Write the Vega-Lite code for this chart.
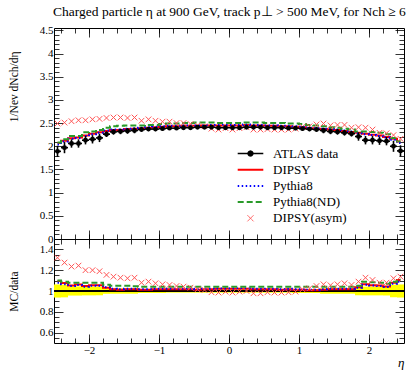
{
"$schema": "https://vega.github.io/schema/vega-lite/v6.json",
"padding": {"left": 7, "top": 5, "right": 13, "bottom": 2},
"title": {"text": "Charged particle η at 900 GeV, track p⊥ > 500 MeV, for Nch ≥ 6", "anchor": "end", "fontSize": 13.5, "fontWeight": "normal", "font": "Liberation Serif", "offset": 5, "color": "#000"},
"datasets": {"h": [
{"e":-2.45,"lo":-2.5,"hi":-2.4,"d":1.89,"dl":1.77,"dh":2.01,"bl":0.937,"bh":1.063,"DIPSY":2.07,"Pythia8":2.04,"Pythia8(ND)":2.08,"A":2.49,"rD":1.095,"rP":1.079,"rN":1.10,"rA":1.32},
{"e":-2.35,"lo":-2.4,"hi":-2.3,"d":1.97,"dl":1.85,"dh":2.09,"bl":0.939,"bh":1.061,"DIPSY":2.12,"Pythia8":2.10,"Pythia8(ND)":2.15,"A":2.51,"rD":1.076,"rP":1.066,"rN":1.09,"rA":1.273},
{"e":-2.25,"lo":-2.3,"hi":-2.2,"d":2.06,"dl":1.97,"dh":2.15,"bl":0.956,"bh":1.044,"DIPSY":2.17,"Pythia8":2.16,"Pythia8(ND)":2.22,"A":2.54,"rD":1.053,"rP":1.048,"rN":1.08,"rA":1.235},
{"e":-2.15,"lo":-2.2,"hi":-2.1,"d":2.06,"dl":1.97,"dh":2.15,"bl":0.956,"bh":1.044,"DIPSY":2.19,"Pythia8":2.18,"Pythia8(ND)":2.22,"A":2.56,"rD":1.063,"rP":1.058,"rN":1.08,"rA":1.244},
{"e":-2.05,"lo":-2.1,"hi":-2.0,"d":2.13,"dl":2.04,"dh":2.22,"bl":0.958,"bh":1.042,"DIPSY":2.23,"Pythia8":2.22,"Pythia8(ND)":2.30,"A":2.56,"rD":1.047,"rP":1.042,"rN":1.08,"rA":1.20},
{"e":-1.95,"lo":-2.0,"hi":-1.9,"d":2.15,"dl":2.06,"dh":2.24,"bl":0.958,"bh":1.042,"DIPSY":2.27,"Pythia8":2.26,"Pythia8(ND)":2.32,"A":2.58,"rD":1.056,"rP":1.051,"rN":1.08,"rA":1.20},
{"e":-1.85,"lo":-1.9,"hi":-1.8,"d":2.18,"dl":2.09,"dh":2.27,"bl":0.959,"bh":1.041,"DIPSY":2.30,"Pythia8":2.29,"Pythia8(ND)":2.35,"A":2.59,"rD":1.055,"rP":1.05,"rN":1.08,"rA":1.19},
{"e":-1.75,"lo":-1.8,"hi":-1.7,"d":2.26,"dl":2.20,"dh":2.32,"bl":0.973,"bh":1.027,"DIPSY":2.33,"Pythia8":2.34,"Pythia8(ND)":2.40,"A":2.61,"rD":1.031,"rP":1.035,"rN":1.06,"rA":1.155},
{"e":-1.65,"lo":-1.7,"hi":-1.6,"d":2.31,"dl":2.25,"dh":2.37,"bl":0.974,"bh":1.026,"DIPSY":2.35,"Pythia8":2.36,"Pythia8(ND)":2.43,"A":2.62,"rD":1.017,"rP":1.022,"rN":1.05,"rA":1.138},
{"e":-1.55,"lo":-1.6,"hi":-1.5,"d":2.32,"dl":2.26,"dh":2.38,"bl":0.974,"bh":1.026,"DIPSY":2.35,"Pythia8":2.36,"Pythia8(ND)":2.44,"A":2.62,"rD":1.013,"rP":1.017,"rN":1.05,"rA":1.128},
{"e":-1.45,"lo":-1.5,"hi":-1.4,"d":2.33,"dl":2.27,"dh":2.39,"bl":0.974,"bh":1.026,"DIPSY":2.37,"Pythia8":2.38,"Pythia8(ND)":2.45,"A":2.61,"rD":1.017,"rP":1.021,"rN":1.05,"rA":1.122},
{"e":-1.35,"lo":-1.4,"hi":-1.3,"d":2.34,"dl":2.28,"dh":2.40,"bl":0.974,"bh":1.026,"DIPSY":2.38,"Pythia8":2.39,"Pythia8(ND)":2.45,"A":2.62,"rD":1.017,"rP":1.021,"rN":1.045,"rA":1.128},
{"e":-1.25,"lo":-1.3,"hi":-1.2,"d":2.36,"dl":2.315,"dh":2.405,"bl":0.981,"bh":1.019,"DIPSY":2.39,"Pythia8":2.40,"Pythia8(ND)":2.45,"A":2.55,"rD":1.013,"rP":1.017,"rN":1.04,"rA":1.08},
{"e":-1.15,"lo":-1.2,"hi":-1.1,"d":2.37,"dl":2.325,"dh":2.415,"bl":0.981,"bh":1.019,"DIPSY":2.40,"Pythia8":2.41,"Pythia8(ND)":2.46,"A":2.58,"rD":1.013,"rP":1.017,"rN":1.04,"rA":1.09},
{"e":-1.05,"lo":-1.1,"hi":-1.0,"d":2.37,"dl":2.325,"dh":2.415,"bl":0.981,"bh":1.019,"DIPSY":2.41,"Pythia8":2.42,"Pythia8(ND)":2.46,"A":2.55,"rD":1.017,"rP":1.021,"rN":1.04,"rA":1.074},
{"e":-0.95,"lo":-1.0,"hi":-0.9,"d":2.38,"dl":2.335,"dh":2.425,"bl":0.981,"bh":1.019,"DIPSY":2.42,"Pythia8":2.43,"Pythia8(ND)":2.48,"A":2.53,"rD":1.017,"rP":1.021,"rN":1.04,"rA":1.064},
{"e":-0.85,"lo":-0.9,"hi":-0.8,"d":2.39,"dl":2.352,"dh":2.428,"bl":0.984,"bh":1.016,"DIPSY":2.43,"Pythia8":2.44,"Pythia8(ND)":2.49,"A":2.53,"rD":1.017,"rP":1.021,"rN":1.04,"rA":1.058},
{"e":-0.75,"lo":-0.8,"hi":-0.7,"d":2.39,"dl":2.352,"dh":2.428,"bl":0.984,"bh":1.016,"DIPSY":2.43,"Pythia8":2.44,"Pythia8(ND)":2.49,"A":2.50,"rD":1.017,"rP":1.021,"rN":1.04,"rA":1.048},
{"e":-0.65,"lo":-0.7,"hi":-0.6,"d":2.40,"dl":2.362,"dh":2.438,"bl":0.984,"bh":1.016,"DIPSY":2.44,"Pythia8":2.45,"Pythia8(ND)":2.50,"A":2.50,"rD":1.017,"rP":1.021,"rN":1.04,"rA":1.042},
{"e":-0.55,"lo":-0.6,"hi":-0.5,"d":2.40,"dl":2.362,"dh":2.438,"bl":0.984,"bh":1.016,"DIPSY":2.44,"Pythia8":2.45,"Pythia8(ND)":2.50,"A":2.48,"rD":1.017,"rP":1.021,"rN":1.04,"rA":1.032},
{"e":-0.45,"lo":-0.5,"hi":-0.4,"d":2.41,"dl":2.372,"dh":2.448,"bl":0.984,"bh":1.016,"DIPSY":2.44,"Pythia8":2.45,"Pythia8(ND)":2.51,"A":2.45,"rD":1.012,"rP":1.017,"rN":1.04,"rA":1.016},
{"e":-0.35,"lo":-0.4,"hi":-0.3,"d":2.41,"dl":2.372,"dh":2.448,"bl":0.984,"bh":1.016,"DIPSY":2.45,"Pythia8":2.46,"Pythia8(ND)":2.51,"A":2.43,"rD":1.017,"rP":1.021,"rN":1.04,"rA":1.01},
{"e":-0.25,"lo":-0.3,"hi":-0.2,"d":2.41,"dl":2.372,"dh":2.448,"bl":0.984,"bh":1.016,"DIPSY":2.45,"Pythia8":2.46,"Pythia8(ND)":2.51,"A":2.38,"rD":1.017,"rP":1.021,"rN":1.04,"rA":0.988},
{"e":-0.15,"lo":-0.2,"hi":-0.1,"d":2.40,"dl":2.362,"dh":2.438,"bl":0.984,"bh":1.016,"DIPSY":2.45,"Pythia8":2.46,"Pythia8(ND)":2.50,"A":2.36,"rD":1.021,"rP":1.025,"rN":1.04,"rA":0.985},
{"e":-0.05,"lo":-0.1,"hi":0.0,"d":2.40,"dl":2.362,"dh":2.438,"bl":0.984,"bh":1.016,"DIPSY":2.45,"Pythia8":2.46,"Pythia8(ND)":2.50,"A":2.39,"rD":1.021,"rP":1.025,"rN":1.04,"rA":0.994},
{"e":0.05,"lo":0.0,"hi":0.1,"d":2.40,"dl":2.362,"dh":2.438,"bl":0.984,"bh":1.016,"DIPSY":2.45,"Pythia8":2.46,"Pythia8(ND)":2.50,"A":2.36,"rD":1.021,"rP":1.025,"rN":1.04,"rA":0.985},
{"e":0.15,"lo":0.1,"hi":0.2,"d":2.40,"dl":2.362,"dh":2.438,"bl":0.984,"bh":1.016,"DIPSY":2.45,"Pythia8":2.46,"Pythia8(ND)":2.50,"A":2.39,"rD":1.021,"rP":1.025,"rN":1.04,"rA":0.994},
{"e":0.25,"lo":0.2,"hi":0.3,"d":2.41,"dl":2.372,"dh":2.448,"bl":0.984,"bh":1.016,"DIPSY":2.46,"Pythia8":2.47,"Pythia8(ND)":2.51,"A":2.41,"rD":1.021,"rP":1.025,"rN":1.04,"rA":1.0},
{"e":0.35,"lo":0.3,"hi":0.4,"d":2.41,"dl":2.372,"dh":2.448,"bl":0.984,"bh":1.016,"DIPSY":2.45,"Pythia8":2.46,"Pythia8(ND)":2.51,"A":2.36,"rD":1.017,"rP":1.021,"rN":1.04,"rA":0.978},
{"e":0.45,"lo":0.4,"hi":0.5,"d":2.41,"dl":2.372,"dh":2.448,"bl":0.984,"bh":1.016,"DIPSY":2.45,"Pythia8":2.46,"Pythia8(ND)":2.51,"A":2.36,"rD":1.017,"rP":1.021,"rN":1.04,"rA":0.978},
{"e":0.55,"lo":0.5,"hi":0.6,"d":2.40,"dl":2.362,"dh":2.438,"bl":0.984,"bh":1.016,"DIPSY":2.44,"Pythia8":2.45,"Pythia8(ND)":2.50,"A":2.37,"rD":1.017,"rP":1.021,"rN":1.04,"rA":0.988},
{"e":0.65,"lo":0.6,"hi":0.7,"d":2.40,"dl":2.362,"dh":2.438,"bl":0.984,"bh":1.016,"DIPSY":2.44,"Pythia8":2.45,"Pythia8(ND)":2.50,"A":2.36,"rD":1.017,"rP":1.021,"rN":1.04,"rA":0.985},
{"e":0.75,"lo":0.7,"hi":0.8,"d":2.40,"dl":2.362,"dh":2.438,"bl":0.984,"bh":1.016,"DIPSY":2.43,"Pythia8":2.44,"Pythia8(ND)":2.50,"A":2.36,"rD":1.0125,"rP":1.017,"rN":1.04,"rA":0.985},
{"e":0.85,"lo":0.8,"hi":0.9,"d":2.39,"dl":2.352,"dh":2.428,"bl":0.984,"bh":1.016,"DIPSY":2.43,"Pythia8":2.44,"Pythia8(ND)":2.49,"A":2.36,"rD":1.017,"rP":1.021,"rN":1.04,"rA":0.988},
{"e":0.95,"lo":0.9,"hi":1.0,"d":2.39,"dl":2.345,"dh":2.435,"bl":0.981,"bh":1.019,"DIPSY":2.42,"Pythia8":2.43,"Pythia8(ND)":2.49,"A":2.38,"rD":1.0125,"rP":1.017,"rN":1.04,"rA":0.994},
{"e":1.05,"lo":1.0,"hi":1.1,"d":2.38,"dl":2.335,"dh":2.425,"bl":0.981,"bh":1.019,"DIPSY":2.41,"Pythia8":2.42,"Pythia8(ND)":2.48,"A":2.42,"rD":1.0125,"rP":1.017,"rN":1.04,"rA":1.016},
{"e":1.15,"lo":1.1,"hi":1.2,"d":2.37,"dl":2.325,"dh":2.415,"bl":0.981,"bh":1.019,"DIPSY":2.39,"Pythia8":2.40,"Pythia8(ND)":2.46,"A":2.43,"rD":1.008,"rP":1.013,"rN":1.04,"rA":1.026},
{"e":1.25,"lo":1.2,"hi":1.3,"d":2.36,"dl":2.315,"dh":2.405,"bl":0.981,"bh":1.019,"DIPSY":2.38,"Pythia8":2.39,"Pythia8(ND)":2.45,"A":2.47,"rD":1.008,"rP":1.013,"rN":1.04,"rA":1.048},
{"e":1.35,"lo":1.3,"hi":1.4,"d":2.34,"dl":2.28,"dh":2.40,"bl":0.974,"bh":1.026,"DIPSY":2.37,"Pythia8":2.38,"Pythia8(ND)":2.43,"A":2.49,"rD":1.013,"rP":1.017,"rN":1.04,"rA":1.064},
{"e":1.45,"lo":1.4,"hi":1.5,"d":2.32,"dl":2.26,"dh":2.38,"bl":0.974,"bh":1.026,"DIPSY":2.36,"Pythia8":2.37,"Pythia8(ND)":2.41,"A":2.45,"rD":1.017,"rP":1.022,"rN":1.04,"rA":1.055},
{"e":1.55,"lo":1.5,"hi":1.6,"d":2.31,"dl":2.25,"dh":2.37,"bl":0.974,"bh":1.026,"DIPSY":2.35,"Pythia8":2.36,"Pythia8(ND)":2.40,"A":2.46,"rD":1.017,"rP":1.022,"rN":1.04,"rA":1.064},
{"e":1.65,"lo":1.6,"hi":1.7,"d":2.29,"dl":2.23,"dh":2.35,"bl":0.974,"bh":1.026,"DIPSY":2.33,"Pythia8":2.34,"Pythia8(ND)":2.38,"A":2.46,"rD":1.017,"rP":1.022,"rN":1.04,"rA":1.074},
{"e":1.75,"lo":1.7,"hi":1.8,"d":2.27,"dl":2.21,"dh":2.33,"bl":0.974,"bh":1.026,"DIPSY":2.31,"Pythia8":2.32,"Pythia8(ND)":2.36,"A":2.40,"rD":1.018,"rP":1.022,"rN":1.04,"rA":1.058},
{"e":1.85,"lo":1.8,"hi":1.9,"d":2.21,"dl":2.12,"dh":2.30,"bl":0.959,"bh":1.041,"DIPSY":2.29,"Pythia8":2.28,"Pythia8(ND)":2.32,"A":2.41,"rD":1.036,"rP":1.032,"rN":1.05,"rA":1.09},
{"e":1.95,"lo":1.9,"hi":2.0,"d":2.13,"dl":2.04,"dh":2.22,"bl":0.958,"bh":1.042,"DIPSY":2.27,"Pythia8":2.26,"Pythia8(ND)":2.32,"A":2.40,"rD":1.066,"rP":1.061,"rN":1.09,"rA":1.128},
{"e":2.05,"lo":2.0,"hi":2.1,"d":2.13,"dl":2.04,"dh":2.22,"bl":0.958,"bh":1.042,"DIPSY":2.25,"Pythia8":2.24,"Pythia8(ND)":2.31,"A":2.36,"rD":1.056,"rP":1.052,"rN":1.085,"rA":1.106},
{"e":2.15,"lo":2.1,"hi":2.2,"d":2.12,"dl":2.03,"dh":2.21,"bl":0.958,"bh":1.042,"DIPSY":2.23,"Pythia8":2.22,"Pythia8(ND)":2.29,"A":2.29,"rD":1.052,"rP":1.047,"rN":1.08,"rA":1.08},
{"e":2.25,"lo":2.2,"hi":2.3,"d":2.11,"dl":2.02,"dh":2.20,"bl":0.957,"bh":1.043,"DIPSY":2.20,"Pythia8":2.19,"Pythia8(ND)":2.26,"A":2.28,"rD":1.043,"rP":1.038,"rN":1.07,"rA":1.08},
{"e":2.35,"lo":2.3,"hi":2.4,"d":2.00,"dl":1.88,"dh":2.12,"bl":0.94,"bh":1.06,"DIPSY":2.16,"Pythia8":2.14,"Pythia8(ND)":2.18,"A":2.24,"rD":1.08,"rP":1.07,"rN":1.09,"rA":1.122},
{"e":2.45,"lo":2.4,"hi":2.5,"d":1.90,"dl":1.78,"dh":2.02,"bl":0.937,"bh":1.063,"DIPSY":2.10,"Pythia8":2.07,"Pythia8(ND)":2.11,"A":2.16,"rD":1.105,"rP":1.089,"rN":1.11,"rA":1.138}
]},
"spacing": 0,
"bounds": "flush",
"vconcat": [
{
 "width": 350, "height": 211,
 "data": {"name": "h"},
 "resolve": {"axis": {"x": "independent", "y": "independent"}},
 "layer": [
  {
   "transform": [{"fold": ["DIPSY", "Pythia8", "Pythia8(ND)"], "as": ["series", "val"]}],
   "mark": {"type": "line", "interpolate": "step", "strokeWidth": 2},
   "encoding": {
    "x": {"field": "e", "type": "quantitative", "scale": {"domain": [-2.5, 2.5], "nice": false, "zero": false},
          "axis": {"orient": "bottom", "values": [-2, -1, 0, 1, 2], "labels": false, "tickSize": -9, "title": null}},
    "y": {"field": "val", "type": "quantitative", "scale": {"domain": [0, 4.55], "nice": false, "zero": false},
          "axis": {"orient": "left", "values": [0, 0.5, 1, 1.5, 2, 2.5, 3, 3.5, 4, 4.5], "format": "~g", "tickSize": -9, "labelPadding": 10,
                   "title": "1/Nev dNch/dη", "titleFontSize": 11.5, "titleAnchor": "end", "titleAlign": "right", "titleY": 23, "titlePadding": 20}},
    "color": {"field": "series", "type": "nominal",
              "scale": {"domain": ["ATLAS data", "DIPSY", "Pythia8", "Pythia8(ND)", "DIPSY(asym)"], "range": ["#000000", "#ff0000", "#0000ff", "#2a9a2a", "#ff5555"]},
              "legend": {"orient": "none", "legendX": 190, "legendY": 119, "title": null, "padding": 0,
                         "labelFont": "Liberation Serif", "labelFontSize": 13, "labelFontWeight": "normal", "labelColor": "#000", "labelOffset": 16,
                         "symbolSize": 256, "rowPadding": 2.2, "symbolStrokeWidth": 2,
                         "encode": {"symbols": {"update": {
                           "shape": {"signal": "datum.value === 'ATLAS data' ? 'M-1.6,0L1.6,0M0.3,0A0.3,0.3 0 1,1 -0.3,0A0.3,0.3 0 1,1 0.3,0Z' : datum.value === 'DIPSY(asym)' ? 'M-0.38,-0.38L0.38,0.38M-0.38,0.38L0.38,-0.38' : 'M-1.6,0L1.6,0'"},
                           "fill": {"signal": "datum.value === 'ATLAS data' ? '#000000' : 'transparent'"},
                           "stroke": {"signal": "datum.value === 'ATLAS data' ? '#000000' : datum.value === 'DIPSY' ? '#ff0000' : datum.value === 'Pythia8' ? '#0000ff' : datum.value === 'Pythia8(ND)' ? '#2a9a2a' : '#ff5555'"},
                           "strokeDash": {"signal": "datum.value === 'Pythia8' ? [1.5, 2.5] : datum.value === 'Pythia8(ND)' ? [6, 3] : [1, 0]"},
                           "strokeWidth": {"signal": "datum.value === 'DIPSY(asym)' ? 1 : datum.value === 'ATLAS data' ? 1.5 : 2"},
                           "opacity": {"value": 1}
                         }}}}},
    "strokeDash": {"field": "series", "type": "nominal",
                   "scale": {"domain": ["DIPSY", "Pythia8", "Pythia8(ND)"], "range": [[1, 0], [1.5, 2.5], [6, 3]]}, "legend": null}
   }
  },
  {
   "mark": {"type": "point", "shape": "M-1,-1L1,1M-1,1L1,-1", "size": 32, "strokeWidth": 1, "color": "#ff5555", "filled": false, "opacity": 1},
   "encoding": {
    "x": {"field": "e", "type": "quantitative", "scale": {"domain": [-2.5, 2.5], "nice": false, "zero": false},
          "axis": {"orient": "bottom", "values": [-2.4, -2.2, -2, -1.8, -1.6, -1.4, -1.2, -1, -0.8, -0.6, -0.4, -0.2, 0, 0.2, 0.4, 0.6, 0.8, 1, 1.2, 1.4, 1.6, 1.8, 2, 2.2, 2.4], "labels": false, "tickSize": -5, "title": null}},
    "y": {"field": "A", "type": "quantitative", "scale": {"domain": [0, 4.55], "nice": false, "zero": false},
          "axis": {"orient": "left", "values": [0.1, 0.2, 0.3, 0.4, 0.6, 0.7, 0.8, 0.9, 1.1, 1.2, 1.3, 1.4, 1.6, 1.7, 1.8, 1.9, 2.1, 2.2, 2.3, 2.4, 2.6, 2.7, 2.8, 2.9, 3.1, 3.2, 3.3, 3.4, 3.6, 3.7, 3.8, 3.9, 4.1, 4.2, 4.3, 4.4], "labels": false, "tickSize": -5, "title": null}}
   }
  },
  {
   "mark": {"type": "rule", "color": "#000", "strokeWidth": 1.6},
   "encoding": {
    "x": {"field": "e", "type": "quantitative", "scale": {"domain": [-2.5, 2.5], "nice": false, "zero": false},
          "axis": {"orient": "top", "values": [-2, -1, 0, 1, 2], "labels": false, "tickSize": -9, "title": null}},
    "y": {"field": "dl", "type": "quantitative", "scale": {"domain": [0, 4.55], "nice": false, "zero": false},
          "axis": {"orient": "right", "values": [0, 0.5, 1, 1.5, 2, 2.5, 3, 3.5, 4, 4.5], "labels": false, "tickSize": -9, "title": null}},
    "y2": {"field": "dh"}
   }
  },
  {
   "mark": {"type": "rule", "color": "#000", "strokeWidth": 1.6},
   "encoding": {
    "x": {"field": "lo", "type": "quantitative", "scale": {"domain": [-2.5, 2.5], "nice": false, "zero": false},
          "axis": {"orient": "top", "values": [-2.4, -2.2, -2, -1.8, -1.6, -1.4, -1.2, -1, -0.8, -0.6, -0.4, -0.2, 0, 0.2, 0.4, 0.6, 0.8, 1, 1.2, 1.4, 1.6, 1.8, 2, 2.2, 2.4], "labels": false, "tickSize": -5, "title": null}},
    "x2": {"field": "hi"},
    "y": {"field": "d", "type": "quantitative", "scale": {"domain": [0, 4.55], "nice": false, "zero": false},
          "axis": {"orient": "right", "values": [0.1, 0.2, 0.3, 0.4, 0.6, 0.7, 0.8, 0.9, 1.1, 1.2, 1.3, 1.4, 1.6, 1.7, 1.8, 1.9, 2.1, 2.2, 2.3, 2.4, 2.6, 2.7, 2.8, 2.9, 3.1, 3.2, 3.3, 3.4, 3.6, 3.7, 3.8, 3.9, 4.1, 4.2, 4.3, 4.4], "labels": false, "tickSize": -5, "title": null}}
   }
  },
  {
   "mark": {"type": "circle", "color": "#000", "size": 24, "opacity": 1},
   "encoding": {
    "x": {"field": "e", "type": "quantitative", "axis": null},
    "y": {"field": "d", "type": "quantitative", "axis": null}
   }
  }
 ]
},
{
 "width": 350, "height": 104,
 "data": {"name": "h"},
 "resolve": {"axis": {"x": "independent", "y": "independent"}},
 "layer": [
  {
   "mark": {"type": "rect", "color": "#ffff00", "opacity": 1},
   "encoding": {
    "x": {"field": "lo", "type": "quantitative", "scale": {"domain": [-2.5, 2.5], "nice": false, "zero": false},
          "axis": {"orient": "bottom", "values": [-2, -1, 0, 1, 2], "tickSize": -9, "labelPadding": 10, "title": "η", "titleFontStyle": "italic", "titleAnchor": "end", "titleFontSize": 13, "titlePadding": 1}},
    "x2": {"field": "hi"},
    "y": {"field": "bl", "type": "quantitative", "scale": {"domain": [0.5, 1.5], "nice": false, "zero": false},
          "axis": {"orient": "left", "values": [0.6, 0.8, 1, 1.2, 1.4], "format": "~g", "tickSize": -9, "labelPadding": 10, "title": "MC/data", "titleFontSize": 11.5, "titlePadding": 20}},
    "y2": {"field": "bh"}
   }
  },
  {
   "mark": {"type": "rule", "color": "#000", "strokeWidth": 1},
   "encoding": {
    "y": {"datum": 1, "type": "quantitative", "scale": {"domain": [0.5, 1.5], "nice": false, "zero": false},
          "axis": {"orient": "left", "values": [0.55, 0.65, 0.7, 0.75, 0.85, 0.9, 0.95, 1.05, 1.1, 1.15, 1.25, 1.3, 1.35, 1.45], "labels": false, "tickSize": -5, "title": null}}
   }
  },
  {
   "mark": {"type": "line", "interpolate": "step", "strokeWidth": 2, "color": "#ff0000"},
   "encoding": {
    "x": {"field": "e", "type": "quantitative", "scale": {"domain": [-2.5, 2.5], "nice": false, "zero": false},
          "axis": {"orient": "bottom", "values": [-2.4, -2.2, -2, -1.8, -1.6, -1.4, -1.2, -1, -0.8, -0.6, -0.4, -0.2, 0, 0.2, 0.4, 0.6, 0.8, 1, 1.2, 1.4, 1.6, 1.8, 2, 2.2, 2.4], "labels": false, "tickSize": -5, "title": null}},
    "y": {"field": "rD", "type": "quantitative", "scale": {"domain": [0.5, 1.5], "nice": false, "zero": false},
          "axis": {"orient": "right", "values": [0.6, 0.8, 1, 1.2, 1.4], "labels": false, "tickSize": -9, "title": null}}
   }
  },
  {
   "mark": {"type": "line", "interpolate": "step", "strokeWidth": 2, "color": "#0000ff", "strokeDash": [1.5, 2.5]},
   "encoding": {
    "x": {"field": "e", "type": "quantitative", "scale": {"domain": [-2.5, 2.5], "nice": false, "zero": false},
          "axis": {"orient": "top", "values": [-2, -1, 0, 1, 2], "labels": false, "tickSize": -9, "title": null}},
    "y": {"field": "rP", "type": "quantitative", "scale": {"domain": [0.5, 1.5], "nice": false, "zero": false},
          "axis": {"orient": "right", "values": [0.55, 0.65, 0.7, 0.75, 0.85, 0.9, 0.95, 1.05, 1.1, 1.15, 1.25, 1.3, 1.35, 1.45], "labels": false, "tickSize": -5, "title": null}}
   }
  },
  {
   "mark": {"type": "line", "interpolate": "step", "strokeWidth": 2, "color": "#2a9a2a", "strokeDash": [6, 3]},
   "encoding": {
    "x": {"field": "e", "type": "quantitative", "scale": {"domain": [-2.5, 2.5], "nice": false, "zero": false},
          "axis": {"orient": "top", "values": [-2.4, -2.2, -2, -1.8, -1.6, -1.4, -1.2, -1, -0.8, -0.6, -0.4, -0.2, 0, 0.2, 0.4, 0.6, 0.8, 1, 1.2, 1.4, 1.6, 1.8, 2, 2.2, 2.4], "labels": false, "tickSize": -5, "title": null}},
    "y": {"field": "rN", "type": "quantitative", "axis": null}
   }
  },
  {
   "mark": {"type": "point", "shape": "M-1,-1L1,1M-1,1L1,-1", "size": 32, "strokeWidth": 1, "color": "#ff5555", "filled": false, "opacity": 1},
   "encoding": {
    "x": {"field": "e", "type": "quantitative", "axis": null},
    "y": {"field": "rA", "type": "quantitative", "axis": null}
   }
  }
 ]
}
],
"config": {
 "font": "Liberation Serif",
 "view": {"stroke": "#000000", "strokeWidth": 1},
 "axis": {"grid": false, "domain": false, "labelFont": "Liberation Serif", "labelFontSize": 11, "labelColor": "#000", "titleFont": "Liberation Serif", "titleFontSize": 12, "titleFontWeight": "normal", "titleColor": "#000", "tickColor": "#000", "tickWidth": 0.8}
}
}
